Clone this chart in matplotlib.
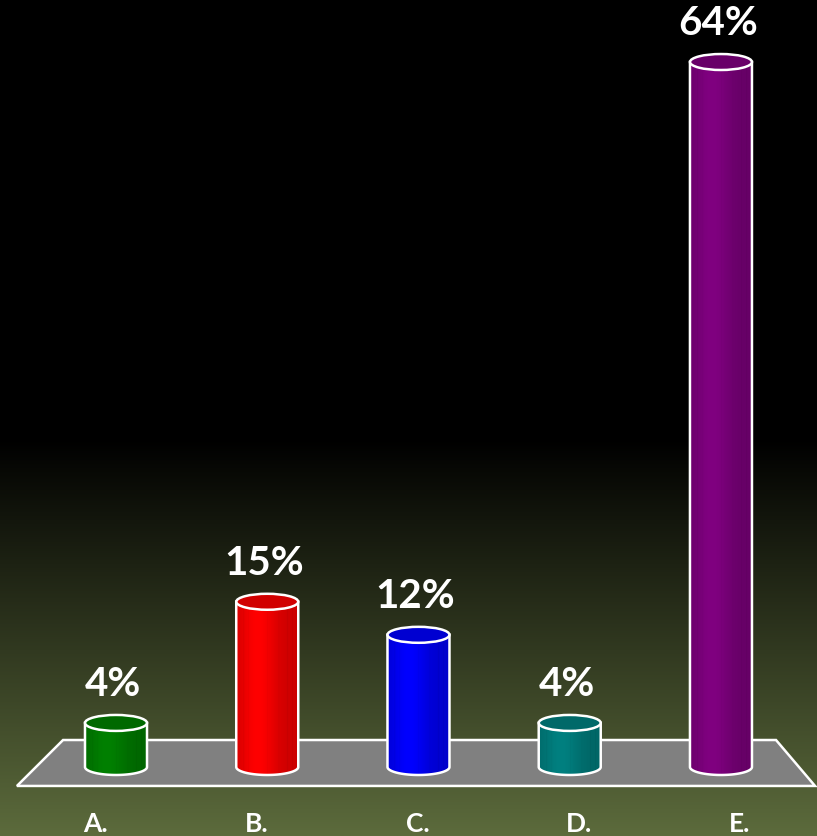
import numpy as np
import matplotlib
matplotlib.use("Agg")
import matplotlib.pyplot as plt
from matplotlib.patches import Ellipse, Polygon
from matplotlib.colors import to_rgb

# chart data
categories = ["A.", "B.", "C.", "D.", "E."]
values = [4, 15, 12, 4, 64]
bar_colors = ["#008000", "#ff0000", "#0000ff", "#008080", "#800080"]

plt.rcParams['font.family'] = ['Lato', 'DejaVu Sans']

fig = plt.figure(figsize=(8.17, 8.37), dpi=100)
ax = fig.add_axes([0, 0, 1, 1])
ax.set_xlim(-0.767, 4.635)
ax.set_ylim(-6.264, 69.72)
ax.axis("off")

# background: black on top, fading into olive green at the bottom
rows = 400
t = np.linspace(0, 1, rows)
fade = np.clip((t - 0.525) / 0.475, 0, 1)[:, None]
bottom_col = np.array(to_rgb("#5c6b3c"))
bg = (fade * bottom_col)[:, None, :].repeat(2, axis=1)
ax.imshow(bg, extent=(-0.767, 4.635, -6.264, 69.72), aspect="auto",
          origin="upper", zorder=0)

# grey floor
floor_top, floor_bot = 2.45, -1.72
floor = Polygon([(-0.655, floor_bot), (-0.350, floor_top), (4.364, floor_top),
                 (4.622, floor_bot)], closed=True, facecolor="#808080",
                edgecolor="white", lw=1.8, zorder=1)
ax.add_patch(floor)

half_w = 0.205
ell_h = 1.45

# horizontal shading profile across a cylinder
xs = np.linspace(0, 1, 200)
shade = 0.8 + 0.2 * np.exp(-((xs - 0.35) / 0.3) ** 2)
for s in [0.12, 0.2, 0.5, 0.68, 0.82, 0.9]:
    shade = shade - 0.04 * (np.abs(xs - s) < 0.006)

for i, (v, c) in enumerate(zip(values, bar_colors)):
    rgb = np.array(to_rgb(c))
    # body outline: bottom half ellipse + straight sides
    th = np.linspace(np.pi, 2 * np.pi, 60)
    bottom = np.column_stack([i + half_w * np.cos(th), 0 + ell_h / 2 * np.sin(th)])
    outline = np.vstack([bottom, [[i + half_w, v], [i - half_w, v]]])
    body = Polygon(outline, closed=True, facecolor="none", edgecolor="white",
                   lw=1.8, zorder=4)
    ax.add_patch(body)
    img = (shade[:, None] * rgb[None, :])[None, :, :]
    im = ax.imshow(img, extent=(i - half_w, i + half_w, -ell_h, v),
                   aspect="auto", zorder=3, interpolation="bilinear")
    clip = Polygon(outline, closed=True, transform=ax.transData)
    im.set_clip_path(clip)

    # top cap
    top = Ellipse((i, v), 2 * half_w, ell_h, facecolor=rgb * 0.82,
                  edgecolor="white", lw=1.8, zorder=5)
    ax.add_patch(top)

    ax.text(i - 0.02, v + 3.55, f"{v}%", color="white", fontsize=29,
            fontweight="bold", ha="center", va="center", zorder=6)

    # category labels follow the floor perspective
    ax.text(i - 0.135 + 0.065 * i, -5.1, categories[i], color="white",
            fontsize=19, fontweight="bold", ha="center", va="center", zorder=6)

fig.savefig("out.png", dpi=100)
